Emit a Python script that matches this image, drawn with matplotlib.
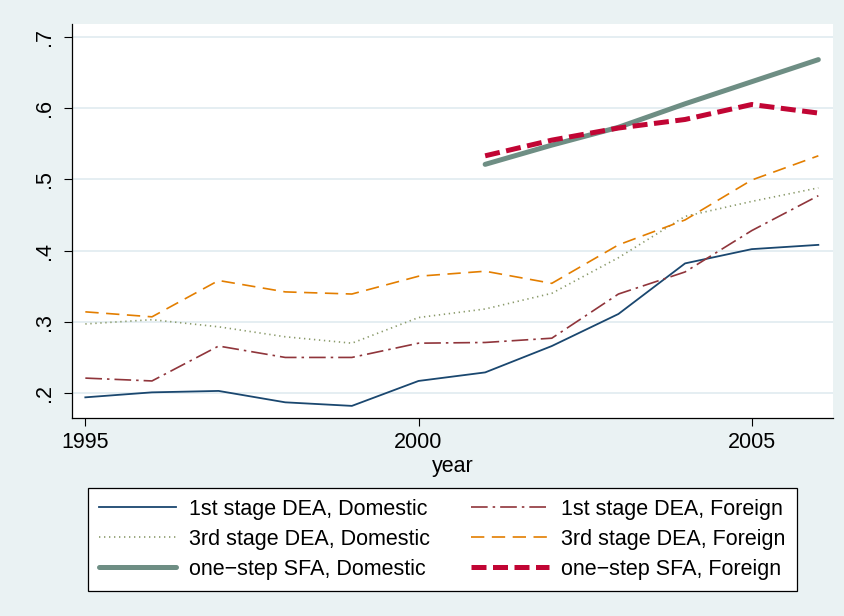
import matplotlib

matplotlib.use("Agg")
import matplotlib.pyplot as plt  # noqa: E402
from matplotlib.ticker import FuncFormatter  # noqa: E402

plt.rcParams["font.family"] = ["Liberation Sans", "DejaVu Sans"]

YEARS = list(range(1995, 2007))
SFA_YEARS = list(range(2001, 2007))

dea1_dom = [0.194, 0.201, 0.203, 0.187, 0.182, 0.217, 0.229, 0.266, 0.311, 0.382, 0.402, 0.408]
dea1_for = [0.221, 0.217, 0.266, 0.250, 0.250, 0.270, 0.271, 0.277, 0.339, 0.370, 0.428, 0.477]
dea3_dom = [0.297, 0.303, 0.293, 0.279, 0.270, 0.306, 0.318, 0.340, 0.390, 0.448, 0.469, 0.488]
dea3_for = [0.314, 0.307, 0.358, 0.342, 0.339, 0.364, 0.371, 0.354, 0.408, 0.443, 0.499, 0.533]
sfa_dom = [0.521, 0.548, 0.573, 0.606, 0.637, 0.668]
sfa_for = [0.533, 0.555, 0.572, 0.584, 0.605, 0.593]

BG = "#eaf2f3"
GRID = "#e3edf1"
FS = 15.5

fig = plt.figure(figsize=(8.44, 6.16), dpi=100, facecolor=BG)
ax = fig.add_axes([72 / 844, 1 - 418 / 616, (833 - 72) / 844, (418 - 24) / 616])
ax.set_facecolor("white")

l1, = ax.plot(YEARS, dea1_dom, color="#1a476f", lw=1.3,
              label="1st stage DEA, Domestic")
l2, = ax.plot(YEARS, dea3_dom, color="#8a9a6a", lw=1.2, dashes=(0.8, 2.2),
              label="3rd stage DEA, Domestic")
l3, = ax.plot(SFA_YEARS, sfa_dom, color="#6e8e84", lw=3.6,
              solid_capstyle="round", label="one\u2212step SFA, Domestic")
l4, = ax.plot(YEARS, dea1_for, color="#90353b", lw=1.2, dashes=(10, 3, 1.5, 3),
              label="1st stage DEA, Foreign")
l5, = ax.plot(YEARS, dea3_for, color="#e37e00", lw=1.2, dashes=(8, 4.5),
              label="3rd stage DEA, Foreign")
l6, = ax.plot(SFA_YEARS, sfa_for, color="#c10534", lw=3.6, dashes=(3, 1.3),
              label="one\u2212step SFA, Foreign")

ax.set_xlim(1994.8, 2006.22)
ax.set_ylim(0.165, 0.718)
ax.set_xticks([1995, 2000, 2005])
ax.set_yticks([0.2, 0.3, 0.4, 0.5, 0.6, 0.7])
ax.yaxis.set_major_formatter(FuncFormatter(lambda v, p: f"{v:.1f}".lstrip("0")))
ax.grid(True, axis="y", color=GRID, lw=1.3)
ax.set_axisbelow(True)
for s in ["top", "right"]:
    ax.spines[s].set_visible(False)
ax.spines["left"].set_linewidth(0.9)
ax.spines["bottom"].set_linewidth(0.9)
ax.tick_params(axis="both", direction="out", length=6, width=0.8, labelsize=FS)
ax.tick_params(axis="y", pad=6)
ax.tick_params(axis="x", pad=4)
for lab in ax.get_yticklabels():
    lab.set_rotation(90)
    lab.set_va("center")
ax.set_xlabel("year", fontsize=FS, labelpad=2)

handles = [l1, l2, l3, l4, l5, l6]
leg = fig.legend(handles=handles, loc="upper left", ncol=2,
                 bbox_to_anchor=(88 / 844, 1 - 488 / 616),
                 fontsize=FS, frameon=True, fancybox=False,
                 edgecolor="black", facecolor="white", framealpha=1,
                 handlelength=3.6, handletextpad=0.6, columnspacing=1.9,
                 labelspacing=0.42, borderpad=0.5, borderaxespad=0)
leg.get_frame().set_linewidth(0.9)

fig.savefig("out.png", dpi=100, facecolor=BG)
